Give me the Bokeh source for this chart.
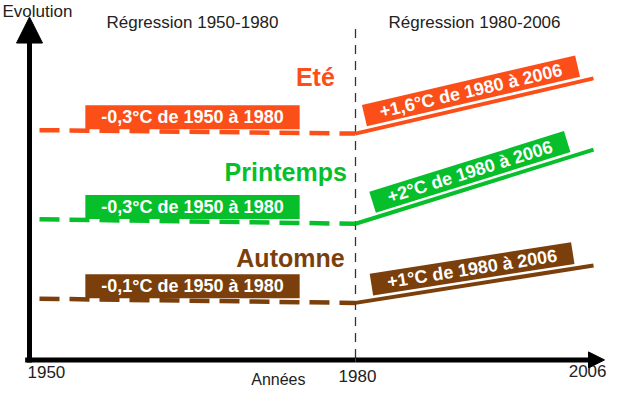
import math
from bokeh.plotting import figure
from bokeh.models import Range1d, Arrow, NormalHead
from bokeh.core.properties import value
from bokeh.embed import file_html
from bokeh.resources import INLINE

# ---------------- data (schematic units) ----------------
years = [1950, 1980, 2006]
seasons = ["Eté", "Printemps", "Automne"]
season_colors = ["#FB4E18", "#06BF2B", "#7B3F0C"]
# schematic "Evolution" level of each season at 1950, 1980 and 2006
ete = [6.45, 6.35, 7.90]
printemps = [3.95, 3.82, 5.90]
automne = [1.72, 1.60, 2.65]
labels_1950_1980 = ["-0,3°C de 1950 à 1980", "-0,3°C de 1950 à 1980", "-0,1°C de 1950 à 1980"]
labels_1980_2006 = ["+1,6°C de 1980 à 2006", "+2°C de 1980 à 2006", "+1°C de 1980 à 2006"]
period_titles = ["Régression 1950-1980", "Régression 1980-2006"]
tick_labels = ["1950", "1980", "2006"]
y_title = "Evolution"
x_title = "Années"

# ---------------- layout ----------------
W, H = 607, 390
X_1950, X_1980, X_2006 = 29, 355, 593     # pixel positions of the three years (schematic axis)
Y_ZERO, PX_UNIT = 30.6, 35.64             # pixel of level 0 (from bottom), pixels per unit
FONT = value("Liberation Sans")

k1 = (X_1980 - X_1950) / (years[1] - years[0])
k2 = (X_2006 - X_1980) / (years[2] - years[1])
early = Range1d(years[0] - X_1950 / k1, years[0] + (W - X_1950) / k1)
late = Range1d(years[1] - X_1980 / k2, years[1] + (W - X_1980) / k2)
yr = Range1d(-Y_ZERO / PX_UNIT, (H - Y_ZERO) / PX_UNIT)

p = figure(width=W, height=H, x_range=early, y_range=yr, output_backend="svg",
           toolbar_location=None, min_border=0, x_axis_location=None,
           y_axis_location=None, outline_line_color=None)
p.extra_x_ranges = {"late": late}
p.grid.visible = False
p.background_fill_color = "white"
p.border_fill_color = "white"

# separator at 1980
p.segment(x0=[years[1]], y0=[0.05], x1=[years[1]], y1=[9.3], line_dash="9 7",
          line_width=1.3, line_color="#333333")

# axes
p.segment(x0=[years[0] - 0.4], y0=[0], x1=[years[1]], y1=[0], line_width=5, line_color="black")
p.add_layout(Arrow(end=NormalHead(size=16, fill_color="black", line_color="black"),
                   x_start=years[1], y_start=0, x_end=years[2] + 1.2, y_end=0,
                   x_range_name="late", line_width=5, line_color="black"))
p.add_layout(Arrow(end=NormalHead(size=26, fill_color="black", line_color="black"),
                   x_start=years[0], y_start=-0.07, x_end=years[0], y_end=9.62,
                   line_width=5, line_color="black"))

series = [ete, printemps, automne]
season_label_x = [1978.1, 1979.2, 1979.0]
season_label_y = [7.94, 5.28, 2.86]

for vals, col, name, lx, ly, lab1, lab2 in zip(series, season_colors, seasons,
                                               season_label_x, season_label_y,
                                               labels_1950_1980, labels_1980_2006):
    # 1950-1980 dashed regression
    p.line(years[:2], vals[:2], line_color=col, line_width=4.5, line_dash="20 10",
           line_dash_offset=20)
    # 1980-2006 regression
    p.line(years[1:], vals[1:], x_range_name="late", line_color=col, line_width=4)
    # season name
    p.text(x=[lx], y=[ly], text=[name], text_font=FONT, text_font_size="25px",
           text_font_style="bold", text_color=col, text_align="right",
           text_baseline="middle")
    # left label box
    xm = (years[0] + years[1]) / 2
    ym = (vals[0] + vals[1]) / 2
    p.text(x=[xm], y=[ym], text=[lab1], text_font=FONT, text_font_size="18px",
           text_font_style="bold", text_color="white", text_align="center",
           text_baseline="middle", y_offset=-14.5, background_fill_color=col,
           padding=(16, 2))
    # right rotated label box
    xm2 = (years[1] + years[2]) / 2
    ym2 = (vals[1] + vals[2]) / 2
    ang = math.atan((vals[2] - vals[1]) * PX_UNIT / ((years[2] - years[1]) * k2))
    d = 15.5
    p.text(x=[xm2], y=[ym2], text=[lab2], x_range_name="late", angle=ang,
           text_font=FONT, text_font_size="18px", text_font_style="bold",
           text_color="white", text_align="center", text_baseline="middle",
           x_offset=-d * math.sin(ang), y_offset=-d * math.cos(ang),
           background_fill_color=col, padding=(16, 1))

# titles
p.text(x=[years[0]], y=[9.78], text=[y_title], text_font=FONT, text_font_size="17px",
       text_color="#222222", text_align="center", text_baseline="middle", x_offset=8)
p.text(x=[(years[0] + years[1]) / 2], y=[9.47], text=[period_titles[0]], text_font=FONT,
       text_font_size="17px", text_color="#222222", text_align="center",
       text_baseline="middle")
p.text(x=[(years[1] + years[2]) / 2], y=[9.47], text=[period_titles[1]], text_font=FONT,
       text_font_size="17px", text_color="#222222", text_align="center",
       text_baseline="middle", x_range_name="late")

# tick labels
p.text(x=[years[0]], y=[-0.33], text=[tick_labels[0]], text_font=FONT, text_font_size="17px",
       text_color="#222222", text_align="left", text_baseline="middle", x_offset=-2)
p.text(x=[years[1]], y=[-0.44], text=[tick_labels[1]], text_font=FONT, text_font_size="17px",
       text_color="#222222", text_align="center", text_baseline="middle", x_offset=2)
p.text(x=[years[2]], y=[-0.31], text=[tick_labels[2]], text_font=FONT, text_font_size="17px",
       text_color="#222222", text_align="right", text_baseline="middle", x_offset=13,
       x_range_name="late")
p.text(x=[1972.9], y=[-0.56], text=[x_title], text_font=FONT, text_font_size="16px",
       text_color="#222222", text_align="center", text_baseline="middle")

open("out.html", "w").write(file_html(p, INLINE))
